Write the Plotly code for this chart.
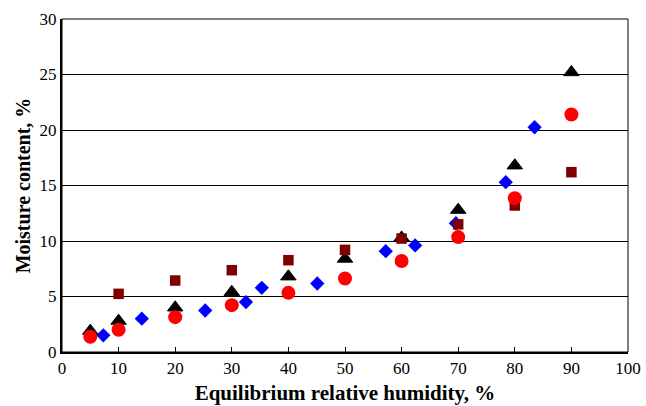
import plotly.graph_objects as go

# Data
rh_std = [5, 10, 20, 30, 40, 50, 60, 70, 80, 90]
mc_triangle = [1.9, 2.8, 4.0, 5.4, 6.8, 8.4, 10.3, 12.8, 16.8, 25.2]
mc_circle = [1.37, 2.0, 3.14, 4.22, 5.33, 6.62, 8.2, 10.35, 13.86, 21.4]

rh_square = [10, 20, 30, 40, 50, 60, 70, 80, 90]
mc_square = [5.24, 6.44, 7.37, 8.27, 9.2, 10.22, 11.5, 13.2, 16.2]

rh_diamond = [7.3, 14.1, 25.3, 32.5, 35.3, 45.1, 57.2, 62.4, 69.6, 78.4, 83.5]
mc_diamond = [1.5, 3.0, 3.74, 4.5, 5.78, 6.17, 9.08, 9.6, 11.6, 15.3, 20.25]

x_ticks = [0, 10, 20, 30, 40, 50, 60, 70, 80, 90, 100]
y_ticks = [0, 5, 10, 15, 20, 25, 30]

fig = go.Figure()
fig.add_trace(go.Scatter(x=rh_diamond, y=mc_diamond, mode="markers",
                         marker=dict(symbol="diamond", size=11, color="#0000ff")))
fig.add_trace(go.Scatter(x=rh_std, y=mc_triangle, mode="markers",
                         marker=dict(symbol="triangle-up", size=13.5, color="#000000",
                                     line=dict(width=1, color="#000000"))))
fig.add_trace(go.Scatter(x=rh_square, y=mc_square, mode="markers",
                         marker=dict(symbol="square", size=10.5, color="#7f0000")))
fig.add_trace(go.Scatter(x=rh_std, y=mc_circle, mode="markers",
                         marker=dict(symbol="circle", size=14, color="#ff0000")))

font_family = "Liberation Serif, Times New Roman, serif"
tick_font = dict(family=font_family, size=17, color="black")
fig.update_layout(
    template="none",
    width=646, height=406,
    margin=dict(l=62, r=18, t=19, b=54, autoexpand=False),
    paper_bgcolor="white", plot_bgcolor="white",
    showlegend=False,
    font=dict(family=font_family, size=17, color="black"),
    xaxis=dict(range=[0, 100], tickvals=x_ticks, ticks="inside", ticklen=5,
               tickcolor="black", tickwidth=1, showgrid=False, zeroline=False,
               showline=True, linecolor="black", linewidth=2, automargin=False,
               tickfont=tick_font,
               title=dict(text="<b>Equilibrium relative humidity, %</b>",
                          font=dict(family=font_family, size=21, color="black"),
                          standoff=8)),
    yaxis=dict(range=[0, 30], tickvals=y_ticks, ticks="inside", ticklen=6,
               tickcolor="black", tickwidth=1, showgrid=True, gridcolor="black",
               gridwidth=1, zeroline=False, automargin=False,
               showline=True, linecolor="black", linewidth=2,
               tickfont=tick_font,
               title=dict(text="<b>Moisture content, %</b>",
                          font=dict(family=font_family, size=20, color="black"),
                          standoff=4)),
    shapes=[dict(type="rect", xref="paper", yref="paper", x0=0, y0=0, x1=1, y1=1,
                 line=dict(color="black", width=1), layer="below")],
)

fig.write_html("out.html")
